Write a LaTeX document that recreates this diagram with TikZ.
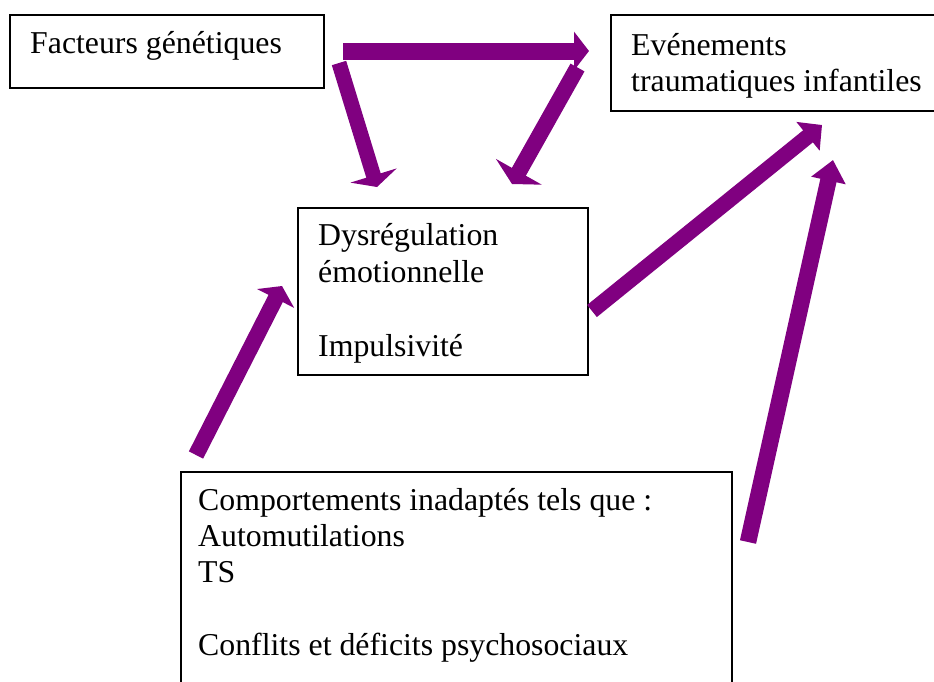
\documentclass[tikz,border=0pt]{standalone}
\usepackage{fontspec}
\setmainfont{Liberation Serif}
\usetikzlibrary{arrows.meta}
\definecolor{purp}{HTML}{800080}
\tikzset{
  box/.style={draw=black, line width=1.5pt, anchor=north west, inner sep=0pt},
  txt/.style={anchor=base west, inner sep=0pt, font=\fontsize{31.8}{36.6}\selectfont},
  bigarrow/.style={draw=purp, line width=16pt, line cap=butt},
}
\begin{document}
\begin{tikzpicture}[x=1pt,y=-1pt]
\useasboundingbox (0,0) rectangle (934,681);
\clip (0,0) rectangle (934,681);
\fill[white] (0,0) rectangle (934,681);

% boxes
\node[box, minimum width=314pt, minimum height=73pt] (fg) at (9,14) {};
\node[box, minimum width=330pt, minimum height=96pt] (ev) at (610,14) {};
\node[box, minimum width=290pt, minimum height=167pt] (dy) at (297,207) {};
\node[box, minimum width=551pt, minimum height=240pt] (co) at (180,471) {};

% texts
\node[txt] (fgt) at (30,53) {Facteurs génétiques};
\node[txt] (evt1) at (631,55) {Evénements};
\node[txt] (evt2) at (631,91) {traumatiques infantiles};
\node[txt] (dyt1) at (318,245) {Dysrégulation};
\node[txt] (dyt2) at (318,282) {émotionnelle};
\node[txt] (dyt3) at (318,356) {Impulsivité};
\node[txt] (cot1) at (198,510) {Comportements inadaptés tels que :};
\node[txt] (cot2) at (198,546) {Automutilations};
\node[txt] (cot3) at (198,582) {TS};
\node[txt] (cot4) at (198,655) {Conflits et déficits psychosociaux};

% arrow end points
\coordinate (a1s) at (343,51);   \coordinate (a1e) at (589,51);
\coordinate (a2s) at (339,63);   \coordinate (a2e) at (377,187);
\coordinate (a3s) at (577.5,67.5); \coordinate (a3e) at (512,184);
\coordinate (a4s) at (196,455);  \coordinate (a4e) at (282,286);
\coordinate (a5s) at (592,311);  \coordinate (a5e) at (822,125);
\coordinate (a6s) at (748,542);  \coordinate (a6e) at (833,160);

% arrows
\draw[bigarrow, line width=17pt, -{Triangle[width=38pt,length=15pt]}] (a1s) -- (a1e);
\draw[bigarrow, line width=15pt, -{Triangle[width=48pt,length=12pt]}] (a2s) -- (a2e);
\draw[bigarrow, line width=16pt, -{Triangle[width=52pt,length=14pt]}] (a3s) -- (a3e);
\draw[bigarrow, line width=16pt, -{Triangle[width=41pt,length=14pt]}] (a4s) -- (a4e);
\draw[bigarrow, line width=15.5pt, -{Triangle[width=36pt,length=18pt]}] (a5s) -- (a5e);
\draw[bigarrow, line width=16.5pt, -{Triangle[width=34pt,length=21pt]}] (a6s) -- (a6e);
\end{tikzpicture}
\end{document}
